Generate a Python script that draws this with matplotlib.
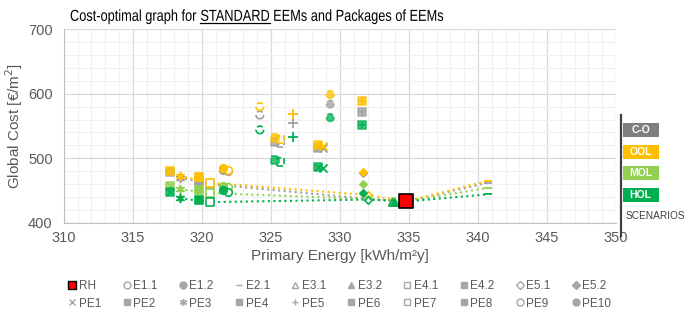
import numpy as np
import matplotlib.pyplot as plt
from matplotlib.lines import Line2D
from matplotlib.patches import Rectangle
from matplotlib.patheffects import AbstractPathEffect
from matplotlib.transforms import Affine2D

plt.rcParams['font.family'] = ['Liberation Sans', 'DejaVu Sans']

# Measures and packages
medidas = ['RH', 'E1.1', 'E1.2', 'E2.1', 'E3.1', 'E3.2', 'E4.1', 'E4.2', 'E5.1', 'E5.2',
           'PE1', 'PE2', 'PE3', 'PE4', 'PE5', 'PE6', 'PE7', 'PE8', 'PE9', 'PE10']

# Primary energy [kWh/m2y] of each measure
energia = [334.8, 321.9, 321.5, 340.7, 333.8, 333.9, 320.6, 319.8, 332.0, 331.7,
           328.8, 328.4, 318.4, 317.7, 326.6, 331.6, 325.7, 325.3, 324.2, 329.3]

# Global cost [EUR/m2] per scenario (nan = not shown)
nan = np.nan
coste_co = [433, 480, 482, 462, 433, 433, 460, 465, 437, 477,
            516, 516, 470, 478, 555, 572, 524, 525, 567, 584]
coste_ool = [433, 482, 485, 465, 434, 434, 462, 471, 443, 479,
             519, 520, 473, 481, 568, 588, 529, 531, 580, 599]
coste_mol = [433, 455, 457, 454, 433, 433, 446, 451, 437, 460,
             nan, nan, 452, 457, nan, nan, nan, nan, nan, nan]
coste_hol = [433, 448, 451, 444, 432, 432, 432, 435, 436, 446,
             485, 486, 438, 448, 533, 552, 494, 497, 544, 563]

escenarios = ['C-O', 'OOL', 'MOL', 'HOL']
costes = [coste_co, coste_ool, coste_mol, coste_hol]
colores = ['#a0a0a0', '#ffc000', '#92d050', '#00b050']
colores_caja = ['#7f7f7f', '#ffc000', '#92d050', '#00b050']

# Cost-optimal curve through these measures
curva = ['PE3', 'E4.1', 'E5.1', 'RH', 'E2.1']

# Marker style per measure: (marker, filled, dashed, overlay)
estilos = {
    'E1.1': ('o', False, False, None), 'E1.2': ('o', True, False, None),
    'E2.1': ('_', True, False, None),
    'E3.1': ('^', False, False, None), 'E3.2': ('^', True, False, None),
    'E4.1': ('s', False, False, None), 'E4.2': ('s', True, False, None),
    'E5.1': ('D', False, False, None), 'E5.2': ('D', True, False, None),
    'PE1': ('x', True, False, None), 'PE2': ('s', True, False, 'x'),
    'PE3': ((6, 2, 0), True, False, None), 'PE4': ('s', True, False, 'x'),
    'PE5': ('+', True, False, None), 'PE6': ('s', True, False, '+'),
    'PE7': ('s', False, True, None), 'PE8': ('s', True, True, None),
    'PE9': ('o', False, True, None), 'PE10': ('o', True, True, None),
}
tamanos = {'D': 14, '_': 40, 'x': 34, '+': 45, '^': 26}


class Estrechar(AbstractPathEffect):
    """Squeeze text horizontally around x0 (display pixels)."""
    def __init__(self, x0, f):
        super().__init__()
        self.x0, self.f = x0, f

    def draw_path(self, renderer, gc, tpath, affine, rgbFace=None):
        t = affine + Affine2D().translate(-self.x0, 0).scale(self.f, 1).translate(self.x0, 0)
        renderer.draw_path(gc, tpath, t, rgbFace)


fig = plt.figure(figsize=(6.93, 3.21), dpi=100)
ax = fig.add_axes([0.092, 0.306, 0.797, 0.603])

for esc, coste, col in zip(escenarios, costes, colores):
    xs = [energia[medidas.index(m)] for m in curva]
    ys = [coste[medidas.index(m)] for m in curva]
    ax.plot(xs, ys, ls=':', lw=1.5, color=col, zorder=2)

for esc, coste, col in zip(escenarios, costes, colores):
    for i, m in enumerate(medidas):
        if m == 'RH' or np.isnan(coste[i]):
            continue
        mk, lleno, discont, extra = estilos[m]
        s = tamanos.get(mk, 30)
        ls = '--' if discont else '-'
        if mk in ('x', '+', '_') or isinstance(mk, tuple):
            ax.scatter(energia[i], coste[i], marker=mk, s=s, color=col, lw=1.3, zorder=3)
        elif lleno:
            alfa = 0.75 if (extra or discont) else 1
            ax.scatter(energia[i], coste[i], marker=mk, s=s, facecolor=col, edgecolor=col,
                       alpha=alfa, lw=1.2, linestyle=ls, zorder=3)
        else:
            ax.scatter(energia[i], coste[i], marker=mk, s=s, facecolor='white', edgecolor=col,
                       lw=1.2, linestyle=ls, zorder=3)
        if extra:
            ax.scatter(energia[i], coste[i], marker=extra, s=24, color=col, lw=1.1, zorder=3)

# Reference building
i_rh = medidas.index('RH')
ax.scatter(energia[i_rh], coste_co[i_rh], marker='s', s=105, facecolor='#ff0000',
           edgecolor='black', lw=1.2, zorder=4)

ax.set_xlim(310, 350)
ax.set_ylim(400, 700)
ax.set_xticks(np.arange(310, 351, 5))
ax.set_yticks(np.arange(400, 701, 100))
ax.set_xticks(np.arange(310, 351, 1), minor=True)
ax.set_yticks(np.arange(400, 701, 20), minor=True)
ax.grid(which='major', color='#d9d9d9', lw=0.9)
ax.grid(which='minor', color='#f0f0f0', lw=0.8)
ax.set_axisbelow(True)
for lado in ['top', 'right']:
    ax.spines[lado].set_visible(False)
for lado in ['left', 'bottom']:
    ax.spines[lado].set_color('#bfbfbf')
ax.tick_params(which='both', length=0, colors='#595959', labelsize=10.5)
ax.tick_params(axis='x', pad=6)
ax.tick_params(axis='y', pad=8)
ax.set_xlabel('Primary Energy [kWh/m²y]', color='#595959', fontsize=11, labelpad=3)
ax.set_ylabel('Global Cost [€/m$^2$]', color='#595959', fontsize=11, labelpad=2)

# Title with underlined word, slightly condensed
ty = 0.935
fs = 11.5
f = 0.8
x0 = 70.0
partes = ['Cost-optimal graph for ', 'STANDARD', ' EEMs and Packages of EEMs']
textos = []
xpos = x0
r = fig.canvas.get_renderer()
for p in partes:
    t = fig.text(xpos / fig.bbox.width, ty, p, fontsize=fs, color='black',
                 path_effects=[Estrechar(x0, f)])
    bb = t.get_window_extent(r)
    textos.append(bb)
    xpos = bb.x1
bb2 = textos[1]
yl = (bb2.y0 + 1.0) / fig.bbox.height
fig.add_artist(Line2D([(x0 + (bb2.x0 - x0) * f) / fig.bbox.width,
                       (x0 + (bb2.x1 - x0) * f) / fig.bbox.width], [yl, yl],
                      color='black', lw=0.9))

# Scenario key
W, H = 693.0, 321.0
fig.add_artist(Line2D([621 / W, 621 / W], [1 - 115 / H, 1 - 236 / H], color='#404040', lw=1.6))
for k, (esc, col) in enumerate(zip(escenarios, colores_caja)):
    y0 = [123, 145, 166, 188][k]
    fig.add_artist(Rectangle((622.5 / W, 1 - (y0 + 14) / H), 36 / W, 14 / H,
                             facecolor=col, edgecolor='none'))
    fig.text(640.5 / W, 1 - (y0 + 7) / H, esc, ha='center', va='center',
             color='white', fontsize=7.5, fontweight='bold')
fig.text(626 / W, 1 - 216 / H, 'SCENARIOS', ha='left', va='center', color='#404040', fontsize=7.3)

# Bottom legend
gris = '#a6a6a6'
handles = {}
for m in medidas:
    if m == 'RH':
        handles[m] = Line2D([], [], ls='', marker='s', ms=6, mfc='#ff0000', mec='black', mew=1)
        continue
    mk, lleno, discont, extra = estilos[m]
    fc = gris if lleno else 'white'
    handles[m] = Line2D([], [], ls='', marker=mk, ms=5 if mk != 'D' else 4,
                        mfc=fc, mec=gris, mew=1)
orden = []
for a, b in zip(medidas[:10], medidas[10:]):
    orden += [a, b]
fig.legend([handles[m] for m in orden], orden, ncol=10, loc='center',
           bbox_to_anchor=(0.49, 0.082), frameon=False, fontsize=8.5,
           labelcolor='#595959', handlelength=0.8, handletextpad=0.15,
           columnspacing=1.75, labelspacing=0.5)

fig.savefig('out.png', dpi=100)
